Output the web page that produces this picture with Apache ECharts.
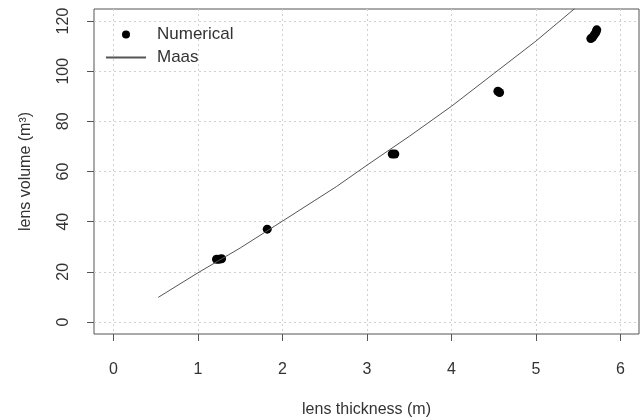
<!DOCTYPE html>
<html>
<head>
<meta charset="utf-8">
<script src="https://cdn.jsdelivr.net/npm/echarts@6/dist/echarts.min.js"></script>
<style>
  html, body { margin: 0; padding: 0; background: #fff; }
  #chart { width: 641px; height: 420px; }
</style>
</head>
<body>
<div id="chart"></div>
<script>
// numerical results (lens thickness m, lens volume m3)
var numThickness = [1.22, 1.25, 1.28, 1.82, 3.30, 3.33, 4.55, 4.57, 5.65, 5.67, 5.69, 5.71, 5.72];
var numVolume = [25, 25, 25.2, 37, 67, 67, 92, 91.5, 113, 113.5, 114.5, 115.5, 116.5];

// Maas curve
var maasThickness = [0.53, 1.0, 1.5, 2.0, 2.64, 3.0, 3.5, 4.0, 4.5, 5.0, 5.46];
var maasVolume = [9.8, 19.6, 29.5, 40.2, 54, 62.5, 74, 86, 99, 112, 125];

var xTicks = [0, 1, 2, 3, 4, 5, 6];
var yTicks = [0, 20, 40, 60, 80, 100, 120];

var font = 'Liberation Sans, Arial, sans-serif';
var textColor = '#333';

var chart = echarts.init(document.getElementById('chart'));
chart.setOption({
    animation: false,
    backgroundColor: '#fff',
    grid: {
        left: 94, right: 2, top: 9, bottom: 86,
        outerBoundsMode: 'none',
        show: true,
        borderColor: '#555',
        borderWidth: 1,
        backgroundColor: 'transparent'
    },
    legend: {
        orient: 'vertical',
        left: 100,
        top: 21,
        itemWidth: 40,
        itemHeight: 8,
        itemGap: 6,
        textStyle: { fontFamily: font, fontSize: 17, color: textColor, padding: [0, 0, 0, 6] },
        data: [
            { name: 'Numerical', icon: 'circle' },
            { name: 'Maas', itemStyle: { opacity: 0 } }
        ]
    },
    xAxis: {
        type: 'value',
        min: -0.23,
        max: 6.22,
        name: 'lens thickness (m)',
        nameLocation: 'middle',
        nameGap: 68,
        nameTextStyle: { fontFamily: font, fontSize: 16, color: textColor },
        axisLine: { show: false, onZero: false },
        axisTick: { show: true, length: 7, lineStyle: { color: '#555' }, customValues: xTicks },
        axisLabel: { fontFamily: font, fontSize: 16, color: textColor, margin: 28, customValues: xTicks },
        splitLine: { show: true, lineStyle: { color: '#d0d0d0', type: [2, 3] } }
    },
    yAxis: {
        type: 'value',
        min: -4.8,
        max: 124.8,
        name: 'lens volume (m³)',
        nameLocation: 'middle',
        nameGap: 60,
        nameRotate: 90,
        nameTextStyle: { fontFamily: font, fontSize: 16, color: textColor },
        axisLine: { show: false, onZero: false },
        axisTick: { show: true, length: 7, lineStyle: { color: '#555' }, customValues: yTicks },
        axisLabel: { fontFamily: font, fontSize: 16, color: textColor, margin: 22, rotate: 90, customValues: yTicks },
        splitLine: { show: true, lineStyle: { color: '#d0d0d0', type: [2, 3] } }
    },
    series: [
        {
            name: 'Numerical',
            type: 'scatter',
            symbol: 'circle',
            symbolSize: 9,
            itemStyle: { color: '#000', opacity: 1 },
            data: numThickness.map(function (x, i) { return [x, numVolume[i]]; })
        },
        {
            name: 'Maas',
            type: 'line',
            symbol: 'none',
            lineStyle: { color: '#555', width: 1 },
            itemStyle: { color: '#555' },
            data: maasThickness.map(function (x, i) { return [x, maasVolume[i]]; })
        }
    ]
});
</script>
</body>
</html>
